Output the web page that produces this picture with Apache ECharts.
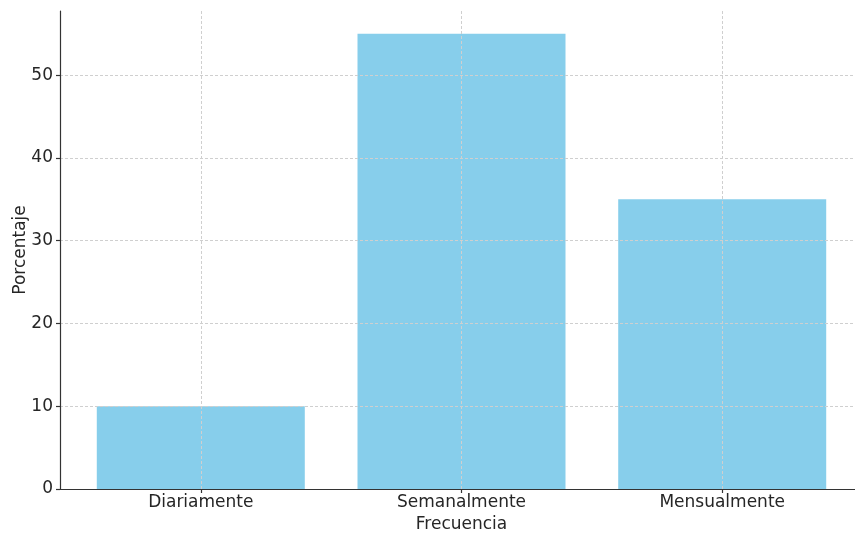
<!DOCTYPE html>
<html>
<head>
<meta charset="utf-8">
<script src="https://cdn.jsdelivr.net/npm/echarts@6/dist/echarts.min.js"></script>
<style>
html,body{margin:0;padding:0;background:#fff;}
#chart{width:855px;height:536px;}
</style>
</head>
<body>
<div id="chart"></div>
<script>
const categories = ['Diariamente', 'Semanalmente', 'Mensualmente'];
const values = [10, 55, 35];
const yTicks = [0, 10, 20, 30, 40, 50];
const xTicks = [0, 1, 2];
const xName = 'Frecuencia';
const yName = 'Porcentaje';

const FONT = 'DejaVu Sans';
const TEXT = '#262626';
const AXIS = '#333333';
const GRIDC = '#cfcfcf';

const chart = echarts.init(document.getElementById('chart'), null, {renderer: 'canvas'});
chart.setOption({
  animation: false,
  backgroundColor: '#ffffff',
  grid: {left: 60, right: -8, top: 11, bottom: 47, containLabel: false, outerBoundsMode: 'none'},
  xAxis: {
    type: 'value',
    min: -0.54, max: 2.54,
    z: 5,
    name: xName,
    nameLocation: 'middle',
    nameGap: 25,
    nameTextStyle: {fontFamily: FONT, fontSize: 17, color: TEXT},
    axisLine: {show: true, onZero: false, lineStyle: {color: AXIS, width: 1.2}},
    axisTick: {show: true, length: 4, customValues: xTicks, lineStyle: {color: AXIS, width: 1.2}},
    axisLabel: {
      customValues: xTicks, margin: 5,
      fontFamily: FONT, fontSize: 17, color: TEXT,
      formatter: v => categories[Math.round(v)] || ''
    },
    splitLine: {show: true, customValues: xTicks, lineStyle: {color: GRIDC, type: [3, 2], width: 1}}
  },
  yAxis: {
    type: 'value',
    min: 0, max: 57.75,
    z: 5,
    name: yName,
    nameLocation: 'middle',
    nameGap: 31,
    nameMoveOverlap: false,
    nameTextStyle: {fontFamily: FONT, fontSize: 17, color: TEXT},
    axisLine: {show: true, onZero: false, lineStyle: {color: AXIS, width: 1.2}},
    axisTick: {show: true, length: 4, customValues: yTicks, lineStyle: {color: AXIS, width: 1.2}},
    axisLabel: {customValues: yTicks, margin: 7, fontFamily: FONT, fontSize: 17, color: TEXT},
    splitLine: {show: true, customValues: yTicks, lineStyle: {color: GRIDC, type: [3, 2], width: 1}}
  },
  series: [{
    type: 'bar',
    barWidth: 208,
    itemStyle: {color: '#87CEEB'},
    data: values.map((v, i) => [i, v])
  }]
});
</script>
</body>
</html>
